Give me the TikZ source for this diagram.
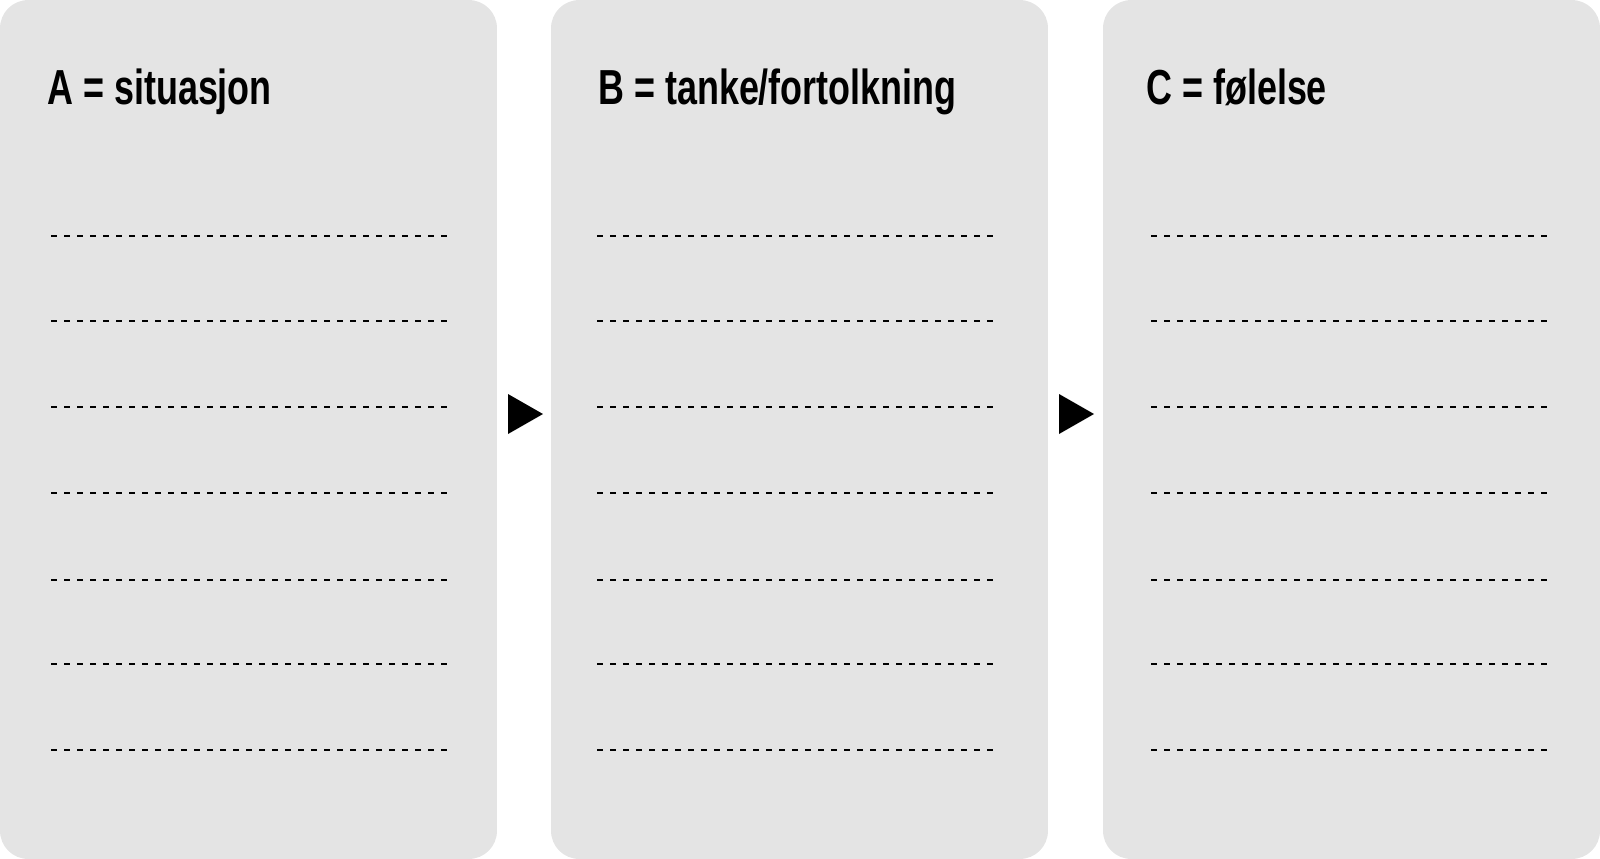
\documentclass[tikz,border=0pt]{standalone}
\usepackage{fontspec}
\newfontfamily\headfont[FakeStretch=0.73]{Liberation Sans}
\usetikzlibrary{positioning}
\definecolor{panelgray}{HTML}{E4E4E4}

\begin{document}
\begin{tikzpicture}[x=0.02cm,y=-0.02cm,
    panel/.style={fill=panelgray,rounded corners=0.56cm,inner sep=0pt,outer sep=0pt,
                  minimum width=9.94cm,minimum height=17.18cm},
    title/.style={anchor=base west,inner sep=0pt,font=\headfont\bfseries\fontsize{28}{33}\selectfont},
    writeline/.style={dash pattern=on 3.4pt off 4pt,line width=0.8pt},
    pointer/.style={fill=black}]
    \useasboundingbox (0,0) rectangle (1600,859);
    % Panels
    \node[panel] (A) at (248.5,429.5) {};
    \node[panel] (B) at (799.5,429.5) {};
    \node[panel] (C) at (1351.5,429.5) {};

    \node[title] (tA) at (47,104) {A = situasjon};
    \node[title] (tB) at (598,104) {B = tanke/fortolkning};
    \node[title] (tC) at (1146,104) {C = følelse};

    % lines to write on
    \foreach \x in {51,597,1151}
        \foreach \y in {236,321,407,493,580,750}
            \draw[writeline] (\x,\y) -- ++(402.5,0);
    \foreach \x in {51,597,1151}
        \draw[writeline,line width=1.1pt] (\x,664) -- ++(402.5,0);

    % arrows between the panels
    \fill[pointer] (508,394) -- (543,414) -- (508,434) -- cycle;
    \fill[pointer] (1059,394) -- (1094,414) -- (1059,434) -- cycle;
\end{tikzpicture}
\end{document}
